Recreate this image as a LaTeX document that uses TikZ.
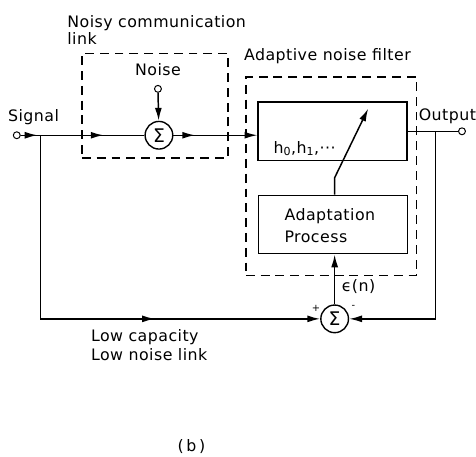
\documentclass[tikz,border=0pt]{standalone}
\usepackage{fontspec}
\setmainfont{DejaVu Sans}[LetterSpace=3]
\usetikzlibrary{arrows.meta,positioning,decorations.markings}
\tikzset{
  sig/.style={line width=1.5pt},
  arr/.style={-{Latex[length=13pt,width=7pt]}},
  midtip/.style={postaction={decorate},
    decoration={markings,mark=at position #1 with {\arrow{Latex[length=13pt,width=7pt]}}}},
  blockbox/.style={draw,line width=1.5pt,minimum width=151pt,minimum height=59pt,inner sep=0pt},
  dashbox/.style={draw,line width=1.5pt,dash pattern=on 9pt off 6pt,inner sep=0pt},
  sumnode/.style={draw,circle,line width=1.4pt,minimum size=28pt,inner sep=0pt,
    font=\fontsize{19}{19}\selectfont},
  port/.style={draw,circle,line width=1pt,minimum size=7pt,inner sep=0pt,fill=white},
  lbl/.style={inner sep=0pt,font=\fontsize{16}{19}\selectfont},
  sgn/.style={inner sep=0pt,font=\fontsize{10}{10}\selectfont},
}
\begin{document}
\begin{tikzpicture}[x=1pt,y=-1pt]
  \path[fill=white] (0,0) rectangle (476,462);

  % dashed frames
  \node[dashbox,minimum width=148pt,minimum height=106pt] (link) at (157,107) {};
  \node[dashbox,minimum width=173pt,minimum height=201pt] (anf) at (335.5,178.5) {};

  % blocks
  \node[blockbox] (filter) at (337,133) {};
  \node[blockbox] (adapt) at (337.5,227.5) {};
  \node[sumnode] (sum1) at (161,137) {Σ};
  \node[sumnode] (sum2) at (339,323) {Σ};
  \node[port] (sigin) at (17,137) {};
  \node[port] (noisein) at (160,90) {};
  \node[port] (out) at (468,133) {};
  \coordinate (jn) at (41,137);
  \coordinate (jr) at (441,133);
  \coordinate (bend) at (339,180);
  \coordinate (adjtip) at (373,110);

  % labels
  \node[lbl,font=\fontsize{16}{15}\selectfont,align=left,anchor=north west]
    (linklbl) at (68,16) {Noisy communication\\link};
  \node[lbl,above=9pt of noisein] (noiselbl) {Noise};
  \node[lbl,anchor=base west] (siglbl) at (8,123) {Signal};
  \node[lbl,anchor=base west] (anflbl) at (247,61) {Adaptive noise filter};
  \node[lbl,anchor=base west] (outlbl) at (424,122) {Output};
  \node[lbl,anchor=base west] (coef) at (277,155) {h\textsubscript{0},h\textsubscript{1},···};
  \node[lbl,font=\fontsize{16}{22}\selectfont,align=left,anchor=north west]
    (adaptlbl) at (288,211) {Adaptation\\Process};
  \node[lbl,anchor=base west] (errlbl) at (346,295) {ϵ(n)};
  \node[lbl,align=left,anchor=north west] (lowlbl) at (92,334)
    {Low capacity\\Low noise link};
  \node[lbl,anchor=base] (caption) at (194,457) {(\,b\,)};
  \node[sgn] (plus) at (320,312) {+};
  \node[sgn] (minus) at (358,311) {-};

  % signal path
  \draw[sig,midtip=17pt] (sigin) -- (jn);
  \draw[sig,midtip=64pt] (jn) -- (sum1);
  \draw[sig,arr] (noisein) -- (sum1);
  \draw[sig,midtip=22pt,arr] (sum1) -- (sum1 -| filter.west);
  \draw[sig] (filter.east |- out) -- (out);

  % reference and error paths
  \draw[sig,midtip=302pt,arr] (jn) |- (sum2);
  \draw[sig,arr] (jr) |- (sum2);
  \draw[sig,arr] (sum2) -- (sum2 |- adapt.south);
  \draw[sig,arr] (sum2 |- adapt.north) -- (bend) -- (adjtip);
\end{tikzpicture}
\end{document}
